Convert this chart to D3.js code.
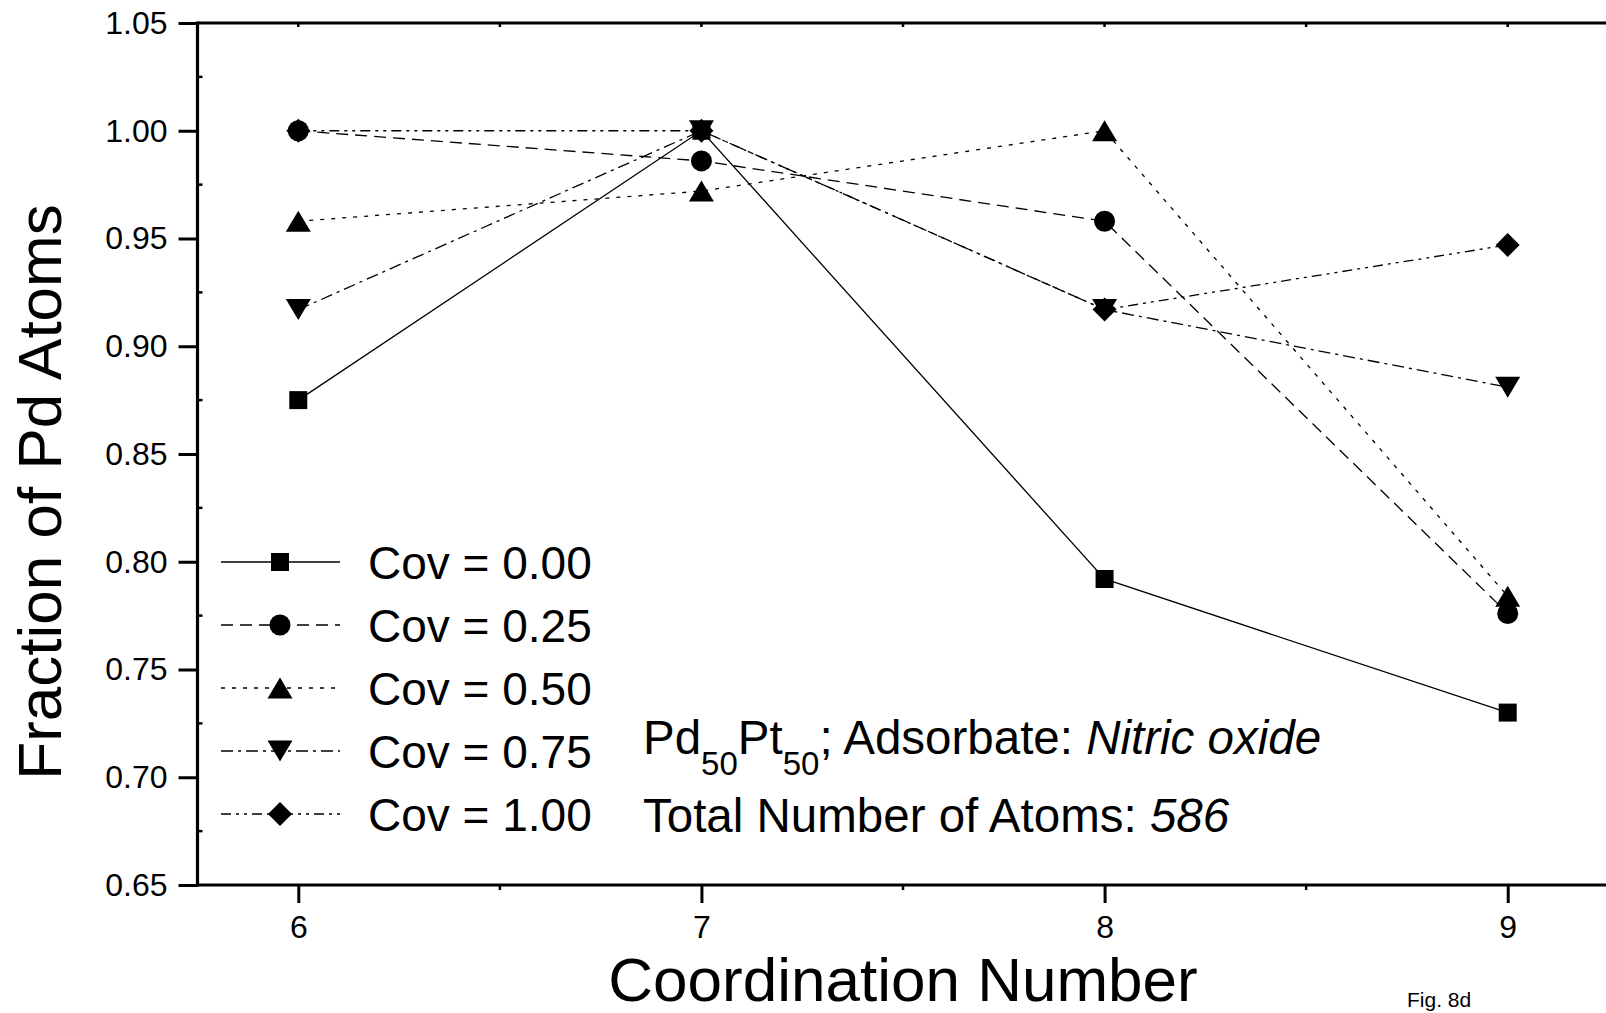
<!DOCTYPE html>
<html><head><meta charset="utf-8">
<script src="https://cdn.jsdelivr.net/npm/d3@7"></script>
<style>
body{margin:0;background:#fff}
svg{display:block}
text{font-family:"Liberation Sans",Arial,Helvetica,sans-serif;fill:#000}
</style>
</head><body>
<svg id="c" width="1606" height="1013"></svg>
<script>
// ---- data ----
const coordination = [6, 7, 8, 9];
const cov000 = [0.875, 1.000, 0.792, 0.730];
const cov025 = [1.000, 0.986, 0.958, 0.776];
const cov050 = [0.958, 0.972, 1.000, 0.784];
const cov075 = [0.917, 1.000, 0.917, 0.881];
const cov100 = [1.000, 1.000, 0.917, 0.947];
const seriesLabels = ["Cov = 0.00", "Cov = 0.25", "Cov = 0.50", "Cov = 0.75", "Cov = 1.00"];
const yTicks = [0.65, 0.70, 0.75, 0.80, 0.85, 0.90, 0.95, 1.00, 1.05];
const yMinor = [0.675, 0.725, 0.775, 0.825, 0.875, 0.925, 0.975, 1.025];
const xTicks = [6, 7, 8, 9];
const xMinor = [6.5, 7.5, 8.5];
const xTitle = "Coordination Number";
const yTitle = "Fraction of Pd Atoms";

// ---- styles ----
const seriesValues = [cov000, cov025, cov050, cov075, cov100];
const dashes = [null, "12,7", "4,7", "12,5,3,5", "10,5,3,5,3,5"];
const shapes = ["square", "circle", "tri-up", "tri-down", "diamond"];

const svg = d3.select("#c");
const x = d3.scaleLinear().domain([5.75, 9.25]).range([197.5, 1608.5]);
const y = d3.scaleLinear().domain([0.65, 1.05]).range([885, 23]);

function shapePath(s) {
  switch (s) {
    case "square": return "M-9,-9H9V9H-9Z";
    case "circle": return d3.symbol(d3.symbolCircle, Math.PI * 10.5 * 10.5)();
    case "tri-up": return "M0,-10.5L12.5,10.5L-12.5,10.5Z";
    case "tri-down": return "M0,10.5L12.5,-10.5L-12.5,-10.5Z";
    case "diamond": return "M0,-12L12,0L0,12L-12,0Z";
  }
}

// ---- axes ----
const axisW = 3.2;
const gy = svg.append("g").attr("transform", `translate(${x(5.75)},0)`);
gy.call(d3.axisLeft(y).tickValues(yTicks).tickSize(19).tickFormat(d3.format(".2f")).tickPadding(11));
gy.select(".domain").remove();
gy.selectAll(".tick line").attr("stroke-width", 3);
gy.selectAll(".tick text").style("font-size", "32px").style("font-family", '"Liberation Sans",Arial,sans-serif').attr("fill", "#000");
gy.append("g").selectAll("line").data(yMinor).join("line")
  .attr("x1", 0).attr("x2", 5).attr("y1", d => y(d)).attr("y2", d => y(d))
  .attr("stroke", "#000").attr("stroke-width", 2.5);

const gx = svg.append("g").attr("transform", `translate(0,${y(0.65)})`);
gx.call(d3.axisBottom(x).tickValues(xTicks).tickSize(18).tickFormat(d3.format("d")).tickPadding(12));
gx.select(".domain").remove();
gx.selectAll(".tick line").attr("stroke-width", 3);
gx.selectAll(".tick text").style("font-size", "32px").style("font-family", '"Liberation Sans",Arial,sans-serif').attr("fill", "#000");
gx.append("g").selectAll("line").data(xMinor).join("line")
  .attr("x1", d => x(d)).attr("x2", d => x(d)).attr("y1", 0).attr("y2", 5)
  .attr("stroke", "#000").attr("stroke-width", 2.5);

svg.append("g").selectAll("line").data(xTicks.concat(xMinor)).join("line")
  .attr("x1", d => x(d)).attr("x2", d => x(d)).attr("y1", y(1.05)).attr("y2", y(1.05) + 4)
  .attr("stroke", "#000").attr("stroke-width", 2.5);

svg.append("line").attr("x1", x(5.75)).attr("x2", 1606).attr("y1", y(0.65)).attr("y2", y(0.65))
  .attr("stroke", "#000").attr("stroke-width", axisW);
svg.append("line").attr("x1", x(5.75)).attr("x2", 1606).attr("y1", y(1.05)).attr("y2", y(1.05))
  .attr("stroke", "#000").attr("stroke-width", axisW);
svg.append("line").attr("x1", x(5.75)).attr("x2", x(5.75)).attr("y1", y(1.05) - 1.6).attr("y2", y(0.65) + 1.6)
  .attr("stroke", "#000").attr("stroke-width", axisW);

// ---- titles ----
svg.append("text").attr("x", 903).attr("y", 1001).attr("text-anchor", "middle")
  .style("font-size", "62px").text(xTitle);
svg.append("text").attr("transform", "translate(61,492) rotate(-90)").attr("text-anchor", "middle")
  .style("font-size", "62px").text(yTitle);

// ---- series ----
const line = d3.line().x((d, i) => x(coordination[i])).y(d => y(d));
seriesValues.forEach((vals, k) => {
  svg.append("path").attr("d", line(vals)).attr("fill", "none").attr("stroke", "#000")
    .attr("stroke-width", 1.3).attr("stroke-dasharray", dashes[k]);
});
seriesValues.forEach((vals, k) => {
  svg.append("g").selectAll("path").data(vals).join("path")
    .attr("d", shapePath(shapes[k]))
    .attr("transform", (d, i) => `translate(${x(coordination[i])},${y(d)})`)
    .attr("fill", "#000");
});

// ---- legend ----
const legY = [562, 625, 688, 751, 814];
const leg = svg.append("g");
seriesLabels.forEach((lab, k) => {
  const yy = legY[k];
  leg.append("line").attr("x1", 221).attr("x2", 340).attr("y1", yy).attr("y2", yy)
    .attr("stroke", "#000").attr("stroke-width", 1.3).attr("stroke-dasharray", dashes[k]);
  leg.append("path").attr("d", shapePath(shapes[k])).attr("transform", `translate(280,${yy})`).attr("fill", "#000");
  leg.append("text").attr("x", 368).attr("y", yy).attr("dy", "0.36em").style("font-size", "46px").text(lab);
});

// ---- annotation ----
const a1 = svg.append("text").attr("x", 643).attr("y", 754).style("font-size", "47.5px");
a1.append("tspan").text("Pd");
a1.append("tspan").attr("dy", 21).style("font-size", "33px").text("50");
a1.append("tspan").attr("dy", -21).text("Pt");
a1.append("tspan").attr("dy", 21).style("font-size", "33px").text("50");
a1.append("tspan").attr("dy", -21).text("; Adsorbate: ");
a1.append("tspan").style("font-style", "italic").text("Nitric oxide");

const a2 = svg.append("text").attr("x", 643).attr("y", 832).style("font-size", "47.5px");
a2.append("tspan").text("Total Number of Atoms: ");
a2.append("tspan").style("font-style", "italic").text("586");

svg.append("text").attr("x", 1407).attr("y", 1007).style("font-size", "21px").text("Fig. 8d");
</script>
</body></html>
